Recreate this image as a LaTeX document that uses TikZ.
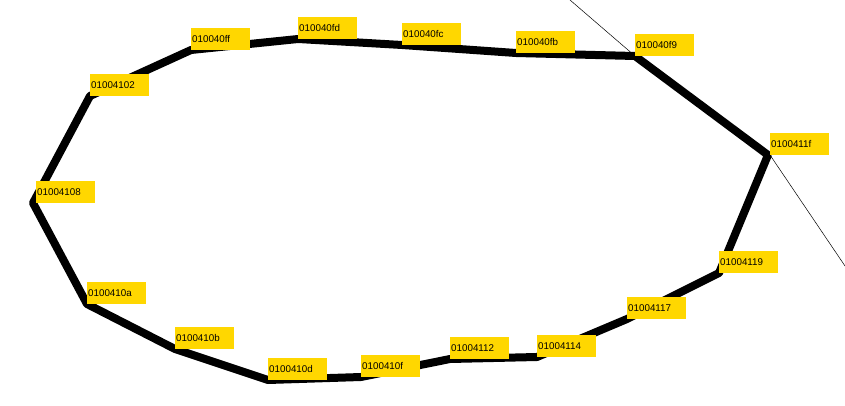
\documentclass[tikz,border=0pt]{standalone}
\usepackage{fontspec}
\setmainfont{Liberation Sans}
\usetikzlibrary{backgrounds}
\definecolor{addrgold}{RGB}{255,215,0}

\begin{document}
\begin{tikzpicture}[x=1pt,y=-1pt,
        addr/.style={fill=addrgold,anchor=south west,minimum width=59pt,minimum height=22pt,
                inner xsep=1pt,inner ysep=0pt,text width=57pt,align=left,
                font=\fontsize{9.8}{10}\selectfont},
        hop/.style={line width=8pt,line join=bevel},
        guide/.style={line width=0.5pt}]
        \useasboundingbox (0,0) rectangle (845,406);
        % blocks, going round the loop
        \node[addr] (ff) at (191,50) {010040ff};
        \node[addr] (fd) at (298,39) {010040fd};
        \node[addr] (fc) at (402,45) {010040fc};
        \node[addr] (fb) at (516,53) {010040fb};
        \node[addr] (f9) at (635,56) {010040f9};
        \node[addr] (b11f) at (770,155) {0100411f};
        \node[addr] (b119) at (719,273) {01004119};
        \node[addr] (b117) at (627,319) {01004117};
        \node[addr] (b114) at (537,357) {01004114};
        \node[addr] (b112) at (450,359) {01004112};
        \node[addr] (b10f) at (361,377) {0100410f};
        \node[addr] (b10d) at (268,380) {0100410d};
        \node[addr] (b10b) at (175,349) {0100410b};
        \node[addr] (b10a) at (87,304) {0100410a};
        \node[addr] (b108) at (36,203) {01004108};
        \node[addr] (b102) at (90,96) {01004102};
        \coordinate (top) at (570,0);
        \coordinate (bot) at (845,266);
        \begin{scope}[on background layer]
                \fill[white] (0,0) rectangle (845,406);
                \draw[guide] (top) -- (f9.south west) -- (b11f.south west) -- (bot);
                \draw[hop] (ff.south west) -- (fd.south west) -- (fc.south west) -- (fb.south west)
                        -- (f9.south west) -- ([xshift=-2pt]b11f.south west) -- (b119.south west)
                        -- (b117.south west) -- (b114.south west) -- (b112.south west)
                        -- (b10f.south west) -- (b10d.south west) -- (b10b.south west)
                        -- (b10a.south west) -- ([xshift=-3pt]b108.south west) -- (b102.south west)
                        -- cycle;
        \end{scope}
\end{tikzpicture}
\end{document}
